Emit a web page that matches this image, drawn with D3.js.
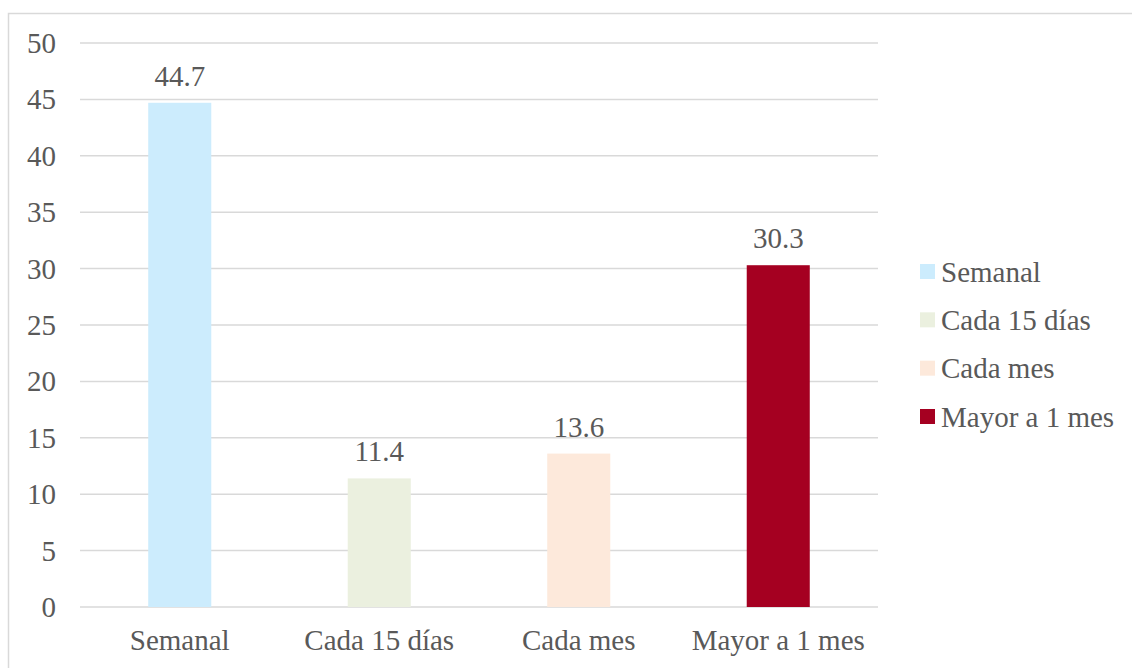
<!DOCTYPE html>
<html><head><meta charset="utf-8">
<script src="https://cdn.jsdelivr.net/npm/d3@7"></script>
</head><body style="margin:0;background:#fff">
<svg id="c" width="1132" height="668" style="display:block" font-family="Liberation Serif"></svg>
<script>
const categories = ["Semanal", "Cada 15 días", "Cada mes", "Mayor a 1 mes"];
const values = [44.7, 11.4, 13.6, 30.3];
const colors = ["#CCECFD", "#EBF0DF", "#FDE9DB", "#A50021"];
const yTicks = [0, 5, 10, 15, 20, 25, 30, 35, 40, 45, 50];

const fs = 29;
const txtCol = "#595959";
const svg = d3.select("#c");
svg.append("rect").attr("x", 8.5).attr("y", 13.5).attr("width", 1130).attr("height", 680)
  .attr("fill", "none").attr("stroke", "#d9d9d9").attr("stroke-width", 1.5);

const x = d3.scaleBand().domain(categories).range([80, 878]).padding(0);
const y = d3.scaleLinear().domain([0, 50]).range([607, 43]);

function styleText(sel) {
  return sel.attr("font-family", "Liberation Serif").attr("font-size", fs).attr("fill", txtCol);
}

svg.selectAll("line.grid").data(yTicks).join("line").attr("class", "grid")
  .attr("x1", 80).attr("x2", 878).attr("y1", d => y(d)).attr("y2", d => y(d))
  .attr("stroke", "#d9d9d9").attr("stroke-width", 1.5);

styleText(svg.selectAll("text.yt").data(yTicks).join("text").attr("class", "yt")
  .attr("x", 56).attr("y", d => y(d) + 10).attr("text-anchor", "end")
  .text(d => d));

const bw = x.bandwidth() * 0.316;
const data = categories.map((c, i) => ({c, v: values[i], col: colors[i]}));
svg.selectAll("rect.bar").data(data).join("rect").attr("class", "bar")
  .attr("x", d => x(d.c) + x.bandwidth() / 2 - bw / 2).attr("width", bw)
  .attr("y", d => y(d.v)).attr("height", d => y(0) - y(d.v)).attr("fill", d => d.col);

styleText(svg.selectAll("text.lbl").data(data).join("text").attr("class", "lbl")
  .attr("x", d => x(d.c) + x.bandwidth() / 2).attr("y", d => y(d.v) - 17)
  .attr("text-anchor", "middle").text(d => d.v.toFixed(1)));

styleText(svg.selectAll("text.xt").data(categories).join("text").attr("class", "xt")
  .attr("x", d => x(d) + x.bandwidth() / 2).attr("y", 650)
  .attr("text-anchor", "middle").text(d => d));

const ly = d3.scaleLinear().domain([0, 3]).range([271.5, 416.5]);
svg.selectAll("rect.lgs").data(data).join("rect").attr("class", "lgs")
  .attr("x", 920).attr("y", (d, i) => ly(i) - 7.5).attr("width", 15).attr("height", 15).attr("fill", d => d.col);
styleText(svg.selectAll("text.lgt").data(data).join("text").attr("class", "lgt")
  .attr("x", 941).attr("y", (d, i) => ly(i) + 10).text(d => d.c));
</script>
</body></html>
